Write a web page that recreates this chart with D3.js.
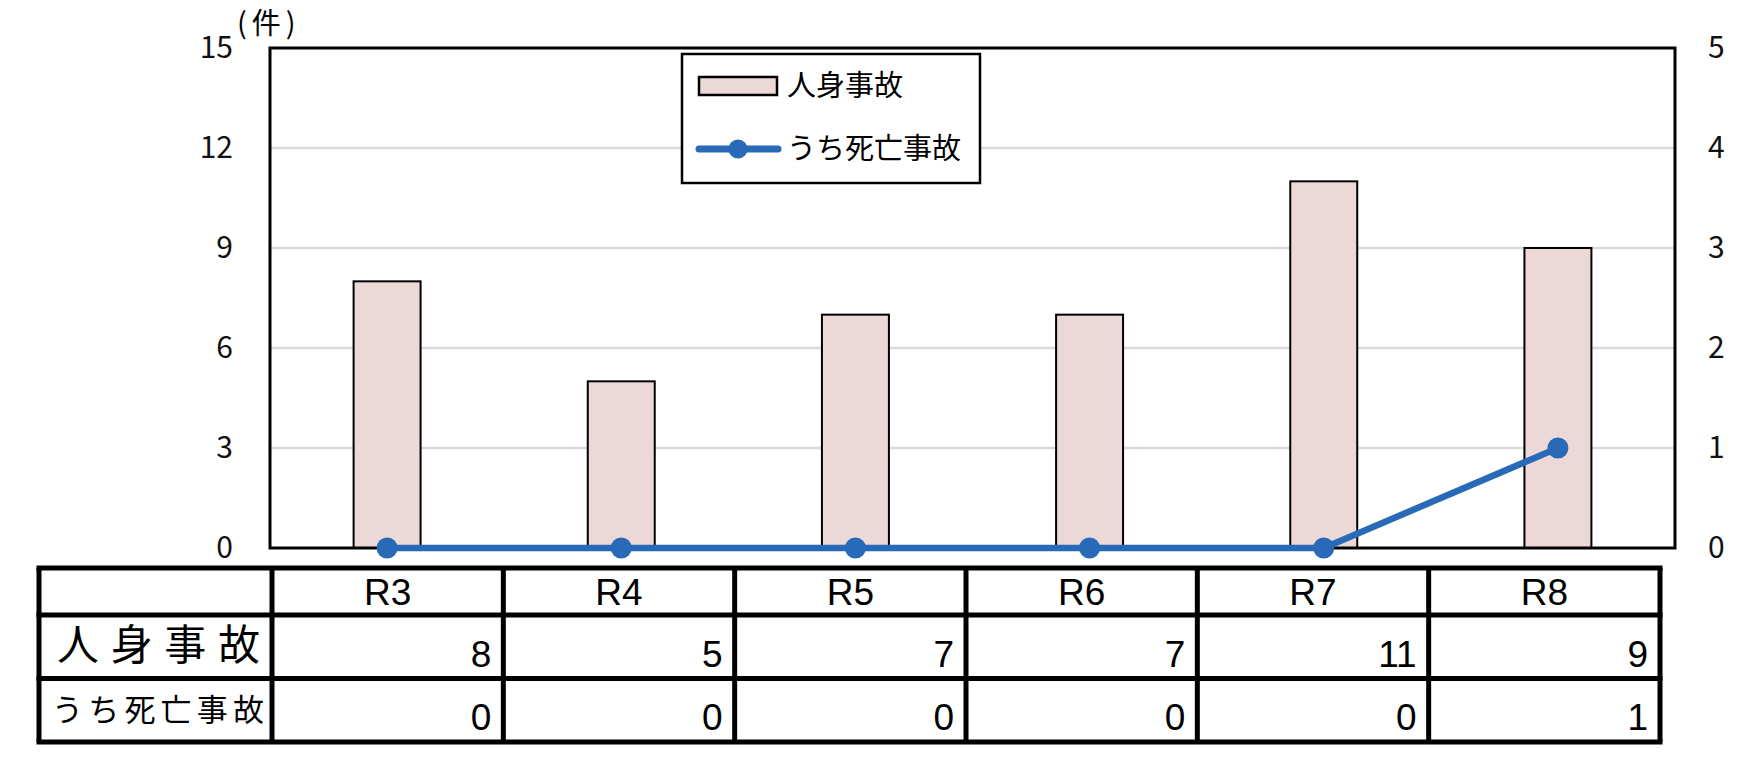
<!DOCTYPE html>
<html>
<head>
<meta charset="utf-8">
<script src="https://cdn.jsdelivr.net/npm/d3@7"></script>
<style>
  body { margin: 0; background: #fff; }
  svg { display: block; }
</style>
</head>
<body>
<svg id="chart" width="1759" height="784"></svg>
<script>
// data
const years = ["R3", "R4", "R5", "R6", "R7", "R8"];
const injuryCounts = [8, 5, 7, 7, 11, 9];      // 人身事故
const deathCounts = [0, 0, 0, 0, 0, 1];        // うち死亡事故
const leftTicks = [0, 3, 6, 9, 12, 15];
const rightTicks = [0, 1, 2, 3, 4, 5];
const seriesNames = ["人身事故", "うち死亡事故"];

const jp = "'Noto Sans CJK JP', 'Noto Sans', sans-serif";
const latin = "'Liberation Sans', Arial, sans-serif";
const barFill = "#ebd8d7";
const lineColor = "#2869b8";

const svg = d3.select("#chart");
svg.append("rect").attr("width", 1759).attr("height", 784).attr("fill", "#fff");

const plot = {left: 270, right: 1675, top: 48, bottom: 548};

const x = d3.scaleBand()
  .domain(years)
  .range([plot.left, plot.right]);

const yL = d3.scaleLinear().domain([0, 15]).range([plot.bottom, plot.top]);
const yR = d3.scaleLinear().domain([0, 5]).range([plot.bottom, plot.top]);

// gridlines
svg.append("g")
  .selectAll("line")
  .data(leftTicks.filter(d => d > 0 && d < 15))
  .enter().append("line")
  .attr("x1", plot.left).attr("x2", plot.right)
  .attr("y1", d => yL(d)).attr("y2", d => yL(d))
  .attr("stroke", "#d9d9d9")
  .attr("stroke-width", 2.5);

// bars
const barW = x.bandwidth() * 0.286;
svg.append("g")
  .selectAll("rect")
  .data(years)
  .enter().append("rect")
  .attr("x", (d) => x(d) + x.bandwidth() / 2 - barW / 2)
  .attr("y", (d, i) => yL(injuryCounts[i]))
  .attr("width", barW)
  .attr("height", (d, i) => yL(0) - yL(injuryCounts[i]))
  .attr("fill", barFill)
  .attr("stroke", "#000")
  .attr("stroke-width", 2);

// plot frame
svg.append("rect")
  .attr("x", plot.left).attr("y", plot.top)
  .attr("width", plot.right - plot.left)
  .attr("height", plot.bottom - plot.top)
  .attr("fill", "none")
  .attr("stroke", "#000")
  .attr("stroke-width", 3);

// axes
const leftAxis = svg.append("g")
  .attr("transform", `translate(${plot.left},0)`)
  .call(d3.axisLeft(yL).tickValues(leftTicks).tickSize(0).tickPadding(37).tickFormat(d3.format("d")));
leftAxis.select(".domain").remove();
leftAxis.selectAll("text")
  .style("font-family", jp).style("font-size", "30px").attr("fill", "#111");

const rightAxis = svg.append("g")
  .attr("transform", `translate(${plot.right},0)`)
  .call(d3.axisRight(yR).tickValues(rightTicks).tickSize(0).tickPadding(33).tickFormat(d3.format("d")));
rightAxis.select(".domain").remove();
rightAxis.selectAll("text")
  .style("font-family", jp).style("font-size", "30px").attr("fill", "#111");

svg.append("text")
  .attr("x", 237).attr("y", 34)
  .style("font-family", jp).style("font-size", "29px")
  .style("letter-spacing", "5px")
  .text("(件)");

// death line
const cx = d => x(d) + x.bandwidth() / 2;
const line = d3.line()
  .x((d, i) => cx(years[i]))
  .y(d => yR(d));

svg.append("path")
  .datum(deathCounts)
  .attr("d", line)
  .attr("fill", "none")
  .attr("stroke", lineColor)
  .attr("stroke-width", 6.5)
  .attr("stroke-linejoin", "round");

svg.append("g")
  .selectAll("circle")
  .data(deathCounts)
  .enter().append("circle")
  .attr("cx", (d, i) => cx(years[i]))
  .attr("cy", d => yR(d))
  .attr("r", 10.5)
  .attr("fill", lineColor);

// legend
const lg = svg.append("g");
lg.append("rect")
  .attr("x", 682).attr("y", 54).attr("width", 298).attr("height", 129)
  .attr("fill", "#fff").attr("stroke", "#000").attr("stroke-width", 2.5);
lg.append("rect")
  .attr("x", 699).attr("y", 77).attr("width", 78).attr("height", 18)
  .attr("fill", barFill).attr("stroke", "#000").attr("stroke-width", 2.5);
lg.append("line")
  .attr("x1", 699).attr("x2", 778).attr("y1", 149).attr("y2", 149)
  .attr("stroke", lineColor).attr("stroke-width", 7).attr("stroke-linecap", "round");
lg.append("circle")
  .attr("cx", 738).attr("cy", 149).attr("r", 9.5).attr("fill", lineColor);
lg.selectAll("text.lab")
  .data(seriesNames)
  .enter().append("text")
  .attr("class", "lab")
  .attr("x", 787)
  .attr("y", (d, i) => i === 0 ? 86 : 149)
  .attr("dy", "0.35em")
  .style("font-family", jp).style("font-size", "29px")
  .text(d => d);

// data table
const tbl = {left: 39, right: 1660, split: 272, rows: [568, 615, 678.5, 742]};
const tx = d3.scaleBand().domain(years).range([tbl.split, tbl.right]);
const tg = svg.append("g");

tbl.rows.forEach(yy => {
  tg.append("line")
    .attr("x1", tbl.left - 2.5).attr("x2", tbl.right + 2.5)
    .attr("y1", yy).attr("y2", yy)
    .attr("stroke", "#000").attr("stroke-width", 5);
});
const vlines = [tbl.left, tbl.split].concat(years.map(d => tx(d) + tx.bandwidth()));
vlines.forEach(xx => {
  tg.append("line")
    .attr("x1", xx).attr("x2", xx)
    .attr("y1", tbl.rows[0]).attr("y2", tbl.rows[3])
    .attr("stroke", "#000").attr("stroke-width", 5);
});

tg.selectAll("text.hdr")
  .data(years)
  .enter().append("text")
  .attr("class", "hdr")
  .attr("x", d => tx(d) + tx.bandwidth() / 2)
  .attr("y", 605)
  .attr("text-anchor", "middle")
  .style("font-family", latin).style("font-size", "37px")
  .text(d => d);

[injuryCounts, deathCounts].forEach((vals, r) => {
  tg.selectAll("text.v" + r)
    .data(vals)
    .enter().append("text")
    .attr("class", "v" + r)
    .attr("x", (d, i) => tx(years[i]) + tx.bandwidth() - 12)
    .attr("y", r === 0 ? 667 : 730)
    .attr("text-anchor", "end")
    .style("font-family", latin).style("font-size", "37px")
    .text(d => d);
});

tg.append("text")
  .attr("x", 57).attr("y", 660)
  .attr("textLength", 203).attr("lengthAdjust", "spacing")
  .style("font-family", jp).style("font-size", "42px")
  .text(seriesNames[0]);
tg.append("text")
  .attr("x", 52).attr("y", 721)
  .attr("textLength", 212).attr("lengthAdjust", "spacing")
  .style("font-family", jp).style("font-size", "31px")
  .text(seriesNames[1]);
</script>
</body>
</html>
